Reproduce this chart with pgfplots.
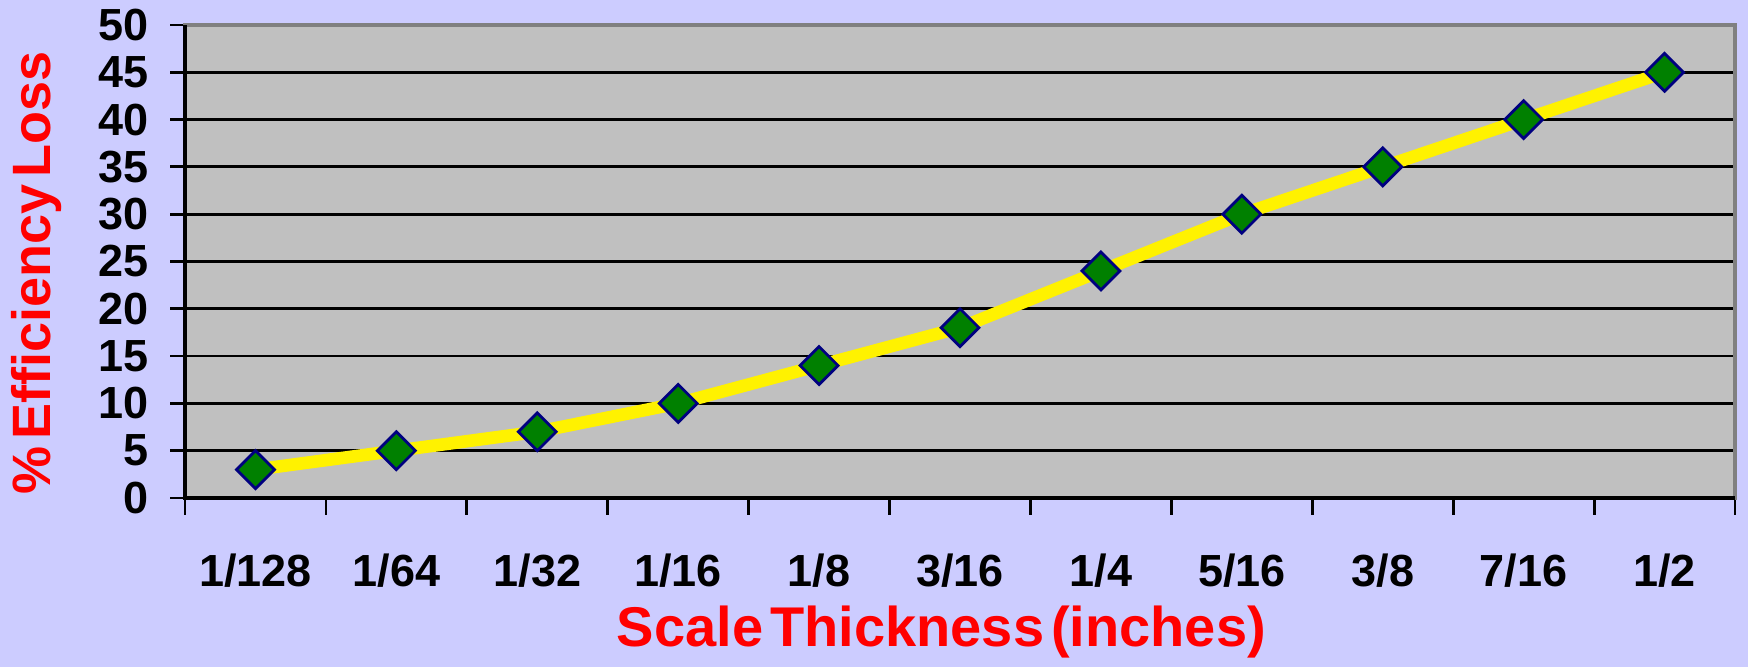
\documentclass[border=0pt]{standalone}
\usepackage{pgfplots}
\pgfplotsset{compat=1.18}
\usepackage{fontspec}
\setmainfont{Liberation Sans}
\newfontfamily\titlefont[WordSpace=0.45]{Liberation Sans}
\definecolor{bg}{RGB}{204,204,255}
\definecolor{plotgray}{RGB}{192,192,192}
\definecolor{navyc}{RGB}{0,0,128}
\definecolor{dgreen}{RGB}{0,128,0}
\definecolor{bordergray}{RGB}{128,128,128}
\begin{document}
\begin{tikzpicture}
\path[use as bounding box, fill=bg] (0,0) rectangle (874pt,333.5pt);
\begin{axis}[
  at={(92.5pt,84.5pt)}, anchor=south west,
  scale only axis, width=775pt, height=236.5pt,
  xmin=-0.5, xmax=10.5, ymin=0, ymax=50,
  ytick={0,5,...,50},
  xtick={0,...,10},
  xticklabels={1/128,1/64,1/32,1/16,1/8,3/16,1/4,5/16,3/8,7/16,1/2},
  minor xtick={-0.5,0.5,...,10.5},
  major x tick style={draw=none},
  minor x tick style={black, line width=1.4pt},
  major y tick style={black, line width=1.4pt},
  tick align=outside,
  tick pos=left,
  major tick length=7.5pt, minor tick length=8.5pt,
  ymajorgrids, grid style={black, line width=1.4pt},
  axis background/.style={fill=plotgray},
  axis line style={draw=bordergray, line width=2pt},
  /pgf/number format/assume math mode=true,
  tick label style={font=\bfseries\fontsize{22.5}{24}\selectfont},
  xticklabel style={yshift=-17pt},
  yticklabel style={xshift=-7pt},
  xlabel={\titlefont\bfseries\fontsize{28}{30}\selectfont Scale Thickness (inches)},
  ylabel={\titlefont\bfseries\fontsize{27}{29}\selectfont \% Efficiency Loss},
  xlabel style={at={(axis description cs:0.488,-0.2833)}, anchor=center, text=red},
  ylabel style={at={(axis description cs:-0.0955,0.476)}, anchor=center, text=red},
  clip=false,
]
\addplot[yellow, line width=6.3pt, mark=square*, mark size=6.7pt,
  mark options={rotate=45, fill=dgreen, draw=navyc, line width=1.4pt}]
  coordinates {(0,3) (1,5) (2,7) (3,10) (4,14) (5,18) (6,24) (7,30) (8,35) (9,40) (10,45)};
\draw[black, line width=1.6pt] (rel axis cs:0,1) -- (rel axis cs:0,0) -- (rel axis cs:1,0);
\end{axis}
\end{tikzpicture}
\end{document}
